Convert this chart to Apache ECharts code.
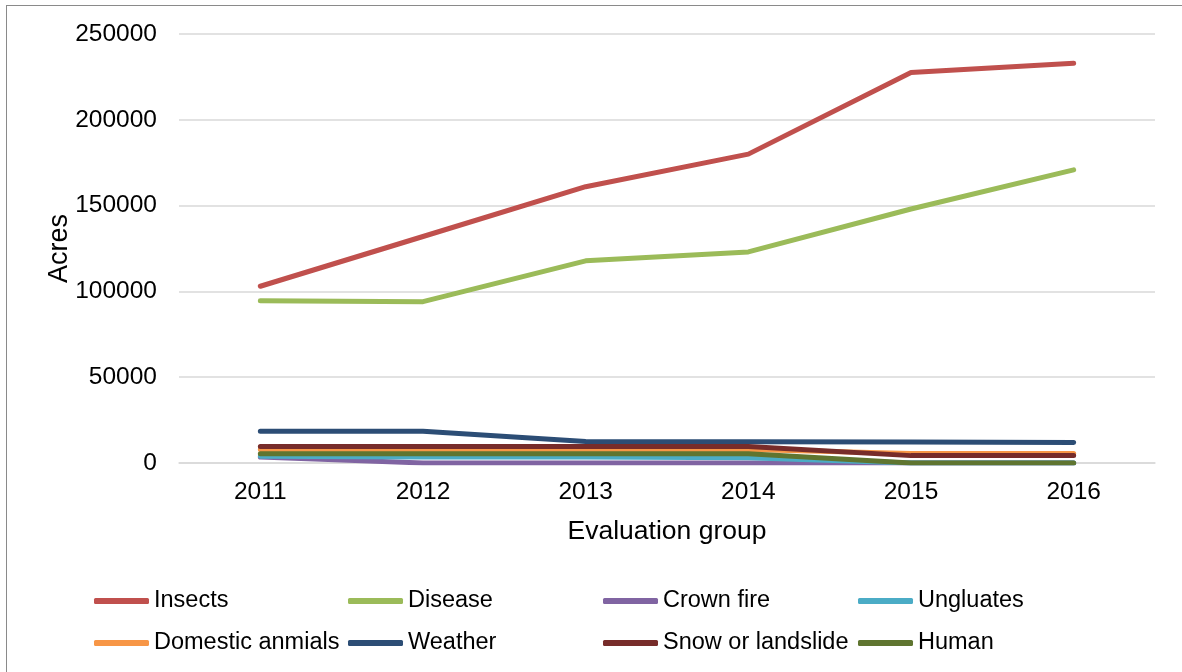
<!DOCTYPE html>
<html>
<head>
<meta charset="utf-8">
<script src="https://cdn.jsdelivr.net/npm/echarts@6/dist/echarts.min.js"></script>
<style>
  html, body { margin: 0; padding: 0; background: #fff; }
  #frame { position: absolute; left: 6px; top: 5px; width: 1190px; height: 700px; border: 1.5px solid #8a8a8a; box-sizing: border-box; }
  #chart { width: 1182px; height: 672px; }
</style>
</head>
<body>
<div id="frame"></div>
<div id="chart"></div>
<script>
const years = ['2011', '2012', '2013', '2014', '2015', '2016'];
const yTicks = [0, 50000, 100000, 150000, 200000, 250000];

const insects = [103000, 132000, 161000, 180000, 227500, 233000];
const disease = [94500, 94000, 117800, 123000, 148000, 170800];
const crownFire = [3500, 0, 0, 0, 0, 0];
const ungulates = [4000, 3500, 3500, 3000, 0, 0];
const domesticAnimals = [7800, 7800, 7800, 7800, 5500, 5500];
const weather = [18500, 18500, 12500, 12400, 12200, 12000];
const snowOrLandslide = [9600, 9600, 9600, 9600, 4300, 4300];
const human = [5400, 5400, 5400, 5400, 0, 0];

const seriesDefs = [
  { name: 'Insects', data: insects, color: '#c0504d' },
  { name: 'Disease', data: disease, color: '#9bbb59' },
  { name: 'Crown fire', data: crownFire, color: '#8064a2' },
  { name: 'Ungluates', data: ungulates, color: '#4bacc6' },
  { name: 'Domestic anmials', data: domesticAnimals, color: '#f79646' },
  { name: 'Weather', data: weather, color: '#2c4d75' },
  { name: 'Snow or landslide', data: snowOrLandslide, color: '#772c2a' },
  { name: 'Human', data: human, color: '#5f7530' },
];

const font = 'Liberation Sans, Arial, sans-serif';
const legendCols = [94, 348, 603, 858];
const legendRows = [589, 631];

const chart = echarts.init(document.getElementById('chart'));

const legends = seriesDefs.map((s, i) => ({
  data: [s.name],
  left: legendCols[i % 4],
  top: legendRows[Math.floor(i / 4)],
  icon: 'roundRect',
  itemWidth: 55,
  itemHeight: 6,
  itemGap: 0,
  padding: 0,
  itemTextGap: 5,
  selectedMode: false,
  textStyle: { fontFamily: font, fontSize: 23.5, color: '#000' },
}));

chart.setOption({
  animation: false,
  color: seriesDefs.map((s) => s.color),
  grid: { left: 179, right: 27, top: 34, bottom: 209 },
  legend: legends,
  xAxis: {
    type: 'category',
    data: years,
    boundaryGap: true,
    name: 'Evaluation group',
    nameLocation: 'middle',
    nameGap: 55,
    nameMoveOverlap: false,
    nameTextStyle: { fontFamily: font, fontSize: 26.5, color: '#000' },
    axisLine: { lineStyle: { color: '#d9d9d9', width: 1.5 } },
    axisTick: { show: false },
    axisLabel: { fontFamily: font, fontSize: 24.5, color: '#000', margin: 17 },
  },
  yAxis: {
    type: 'value',
    min: yTicks[0],
    max: yTicks[yTicks.length - 1],
    interval: yTicks[1] - yTicks[0],
    name: 'Acres',
    nameLocation: 'middle',
    nameGap: 106,
    nameMoveOverlap: false,
    nameTextStyle: { fontFamily: font, fontSize: 27, color: '#000' },
    axisLine: { show: false },
    axisTick: { show: false },
    axisLabel: {
      fontFamily: font, fontSize: 24.5, color: '#000', margin: 22,
      formatter: (v) => String(v),
    },
    splitLine: { lineStyle: { color: '#d9d9d9', width: 1.5 } },
  },
  series: seriesDefs.map((s) => ({
    name: s.name,
    type: 'line',
    data: s.data,
    symbol: 'none',
    lineStyle: { width: 5, color: s.color, cap: 'round', join: 'round' },
    itemStyle: { color: s.color },
  })),
});
</script>
</body>
</html>
